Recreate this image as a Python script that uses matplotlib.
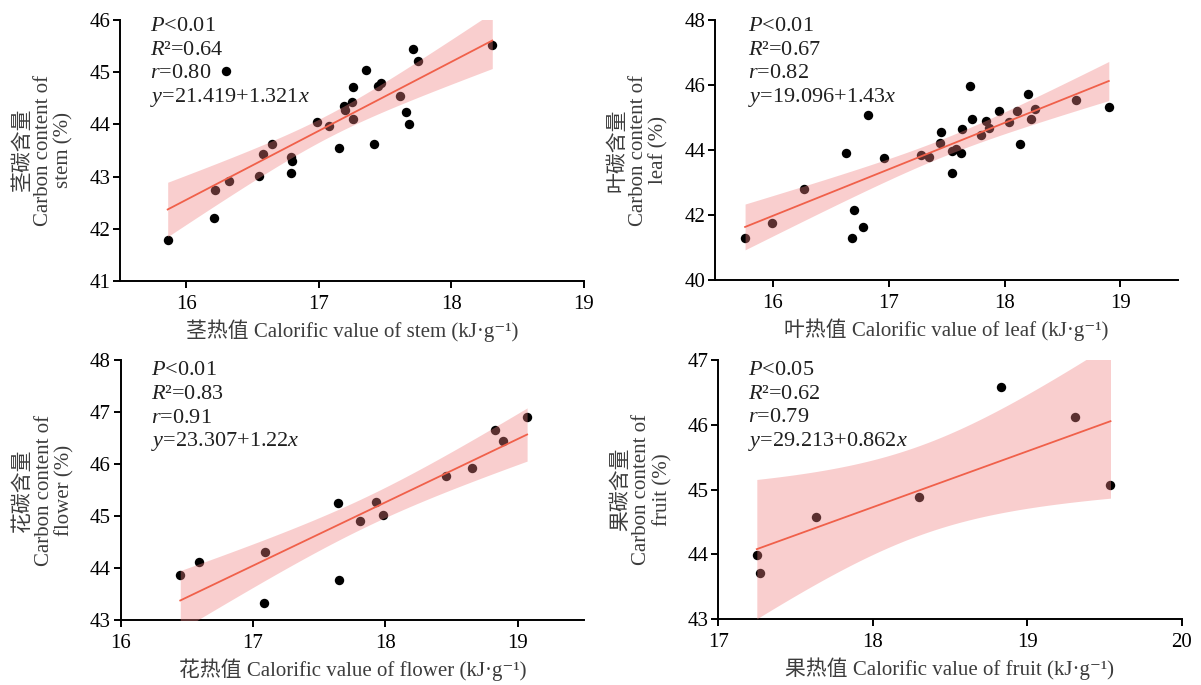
import math
import numpy as np
import matplotlib
matplotlib.use('Agg')
import matplotlib.pyplot as plt

plt.rcParams['font.family'] = ['Liberation Serif', 'Noto Sans CJK SC', 'DejaVu Serif']
plt.rcParams['mathtext.fontset'] = 'custom'
plt.rcParams['mathtext.rm'] = 'Liberation Serif'
plt.rcParams['mathtext.it'] = 'Liberation Serif:italic'
plt.rcParams['axes.unicode_minus'] = False

# ---- stem
stem_x = [15.86, 16.21, 16.22, 16.32, 16.30, 16.55, 16.58, 16.65, 16.79, 16.80,
          16.79, 16.99, 17.08, 17.15, 17.19, 17.20, 17.25, 17.26, 17.26, 17.36,
          17.42, 17.45, 17.47, 17.61, 17.66, 17.68, 17.71, 17.75, 18.31]
stem_y = [41.79, 42.21, 42.75, 42.92, 45.03, 43.01, 43.44, 43.63, 43.38, 43.29,
          43.07, 44.04, 43.96, 43.55, 44.36, 44.27, 44.42, 44.72, 44.10, 45.04,
          43.63, 44.73, 44.79, 44.54, 44.24, 44.00, 45.44, 45.22, 45.53]
stem_fit = (21.419, 1.321)
stem_stats = ['$P$<0.01', '$R$²=0.64', '$r$=0.80', '$y$=21.419+1.321$x$']

# ---- leaf
leaf_x = [15.76, 15.99, 16.27, 16.63, 16.68, 16.70, 16.78, 16.82, 16.96, 17.28,
          17.35, 17.44, 17.45, 17.55, 17.55, 17.58, 17.62, 17.63, 17.70, 17.72,
          17.80, 17.84, 17.87, 17.95, 18.04, 18.11, 18.13, 18.20, 18.23, 18.26,
          18.62, 18.90]
leaf_y = [41.30, 41.75, 42.80, 43.91, 41.30, 42.15, 41.63, 45.08, 43.76, 43.85,
          43.77, 44.23, 44.56, 43.28, 43.98, 44.02, 43.92, 44.64, 45.98, 44.94,
          44.46, 44.90, 44.67, 45.19, 44.85, 45.21, 44.17, 45.71, 44.95, 45.27,
          45.53, 45.32]
leaf_fit = (19.096, 1.43)
leaf_stats = ['$P$<0.01', '$R$²=0.67', '$r$=0.82', '$y$=19.096+1.43$x$']

# ---- flower
flower_x = [16.45, 16.59, 17.09, 17.08, 17.64, 17.65, 17.81, 17.93, 17.98, 18.46,
            18.65, 18.83, 18.89, 19.07]
flower_y = [43.87, 44.12, 44.30, 43.33, 45.25, 43.77, 44.91, 45.28, 45.03, 45.77,
            45.93, 46.65, 46.45, 46.91]
flower_fit = (23.307, 1.22)
flower_stats = ['$P$<0.01', '$R$²=0.83', '$r$=0.91', '$y$=23.307+1.22$x$']

# ---- fruit
fruit_x = [17.25, 17.27, 17.63, 18.30, 18.83, 19.31, 19.54]
fruit_y = [43.99, 43.72, 44.58, 44.89, 46.58, 46.12, 45.07]
fruit_fit = (29.213, 0.862)
fruit_stats = ['$P$<0.05', '$R$²=0.62', '$r$=0.79', '$y$=29.213+0.862$x$']

LABEL_COLOR = '#3c3c3c'


def t_crit(df, q=0.975):
    # two-sided critical value of Student t, integrated numerically
    t = np.linspace(0, 60, 200001)
    c = math.gamma((df + 1) / 2) / (math.sqrt(df * math.pi) * math.gamma(df / 2))
    pdf = c * (1 + t ** 2 / df) ** (-(df + 1) / 2)
    cdf = 0.5 + np.concatenate([[0], np.cumsum((pdf[1:] + pdf[:-1]) / 2 * np.diff(t))])
    return float(np.interp(q, cdf, t))


def panel(ax, x, y, fit, stats, xlim, ylim, xticks, yticks, xlabel, ylabel,
          text_dx=30, text_dy=11):
    x = np.array(x)
    y = np.array(y)
    a, b = fit
    n = len(x)
    resid = y - (a + b * x)
    s = np.sqrt(np.sum(resid ** 2) / (n - 2))
    sxx = np.sum((x - x.mean()) ** 2)
    xs = np.linspace(x.min(), x.max(), 300)
    ys = a + b * xs
    half = t_crit(n - 2) * s * np.sqrt(1 / n + (xs - x.mean()) ** 2 / sxx)

    ax.scatter(x, y, s=46, color='black', zorder=2, linewidths=0)
    ax.fill_between(xs, ys - half, ys + half, color='#F08080', alpha=0.38,
                    linewidth=0, zorder=3)
    ax.plot(xs, ys, color='#F0604A', lw=1.3, zorder=4)

    ax.set_xlim(xlim)
    ax.set_ylim(ylim)
    ax.set_xticks(xticks)
    ax.set_yticks(yticks)
    for sp in ['top', 'right']:
        ax.spines[sp].set_visible(False)
    for sp in ['left', 'bottom']:
        ax.spines[sp].set_linewidth(1.4)
    ax.tick_params(direction='out', length=5, width=1.4, labelsize=15, pad=2)
    ax.tick_params(axis='x', pad=5)
    ax.set_xlabel(xlabel, fontsize=15, labelpad=4, color=LABEL_COLOR)
    ax.set_ylabel(ylabel, fontsize=15, labelpad=11, linespacing=1.1, color=LABEL_COLOR)
    # stats block, one line every 17 pt
    for i, line in enumerate(stats):
        ax.annotate(line, xy=(0, 1), xycoords='axes fraction',
                    xytext=(text_dx * 0.72, -text_dy * 0.72 - i * 17),
                    textcoords='offset points', fontsize=16,
                    ha='left', va='baseline', color='#202020', zorder=5)


fig = plt.figure(figsize=(12.01, 6.85), dpi=100)
ax1 = fig.add_axes([0.0999, 0.5898, 0.3861, 0.381])
ax2 = fig.add_axes([0.5953, 0.5912, 0.3858, 0.3796])
ax3 = fig.add_axes([0.1005, 0.0949, 0.3858, 0.379])
ax4 = fig.add_axes([0.5980, 0.0959, 0.3858, 0.3785])

panel(ax1, stem_x, stem_y, stem_fit, stem_stats, (15.5, 19), (41, 46),
      [16, 17, 18, 19], range(41, 47),
      '茎热值 Calorific value of stem (kJ·g⁻¹)',
      '茎碳含量\nCarbon content of\nstem (%)')
panel(ax2, leaf_x, leaf_y, leaf_fit, leaf_stats, (15.5, 19.5), (40, 48),
      [16, 17, 18, 19], range(40, 49, 2),
      '叶热值 Calorific value of leaf (kJ·g⁻¹)',
      '叶碳含量\nCarbon content of\nleaf (%)', text_dx=33)
panel(ax3, flower_x, flower_y, flower_fit, flower_stats, (16, 19.5), (43, 48),
      [16, 17, 18, 19], range(43, 49),
      '花热值 Calorific value of flower (kJ·g⁻¹)',
      '花碳含量\nCarbon content of\nflower (%)', text_dy=15)
panel(ax4, fruit_x, fruit_y, fruit_fit, fruit_stats, (17, 20), (43, 47),
      [17, 18, 19, 20], range(43, 48),
      '果热值 Calorific value of fruit (kJ·g⁻¹)',
      '果碳含量\nCarbon content of\nfruit (%)', text_dy=15)

fig.savefig('out.png', dpi=100)
